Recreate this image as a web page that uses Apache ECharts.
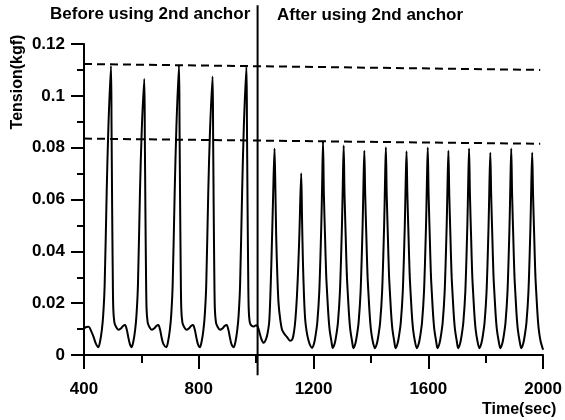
<!DOCTYPE html>
<html>
<head>
<meta charset="utf-8">
<script src="https://cdn.jsdelivr.net/npm/echarts@6/dist/echarts.min.js"></script>
<style>
    html, body { margin: 0; padding: 0; background: #fff; }
    #chart { width: 565px; height: 420px; }
</style>
</head>
<body>
<div id="chart"></div>
<script>
    // tension trace before the 2nd anchor (sec, kgf)
    var beforeTime = [
        400, 408, 416, 425, 433, 441, 450,
        456, 462, 467, 472, 479, 485, 494, 496, 498, 500, 502, 506, 512, 520, 528, 536, 543, 549, 555, 560, 566,
        572, 578, 583, 588, 595, 601, 610, 612, 614, 616, 618, 622, 628, 636, 644, 652, 659, 665, 671, 677, 687,
        693, 699, 704, 709, 716, 722, 731, 733, 735, 737, 739, 743, 749, 757, 765, 773, 780, 786, 792, 797, 804,
        810, 816, 821, 826, 833, 839, 848, 850, 852, 854, 856, 860, 866, 874, 882, 890, 897, 903, 909, 914, 922,
        928, 934, 939, 944, 951, 957, 966, 968, 970, 972, 974, 978, 984, 992, 1000, 1006
    ];
    var beforeTension = [
        0.0103, 0.0108, 0.0109, 0.0092, 0.0071, 0.0045, 0.003,
        0.0052, 0.0095, 0.0155, 0.027, 0.0625, 0.088, 0.1115, 0.088, 0.058, 0.034, 0.018, 0.0125, 0.0108, 0.0097, 0.0102, 0.0112, 0.0116, 0.0098, 0.0065, 0.0042, 0.003,
        0.0052, 0.0095, 0.0155, 0.027, 0.0625, 0.086, 0.1065, 0.084, 0.056, 0.033, 0.018, 0.0125, 0.0108, 0.0097, 0.0102, 0.0112, 0.0116, 0.0098, 0.0065, 0.0042, 0.003,
        0.0052, 0.0095, 0.0155, 0.027, 0.0625, 0.088, 0.1118, 0.088, 0.058, 0.034, 0.018, 0.0125, 0.0108, 0.0097, 0.0102, 0.0112, 0.0116, 0.0098, 0.0065, 0.0042, 0.003,
        0.0052, 0.0095, 0.0155, 0.027, 0.0625, 0.086, 0.1075, 0.085, 0.056, 0.033, 0.018, 0.0125, 0.0108, 0.0097, 0.0102, 0.0112, 0.0116, 0.0098, 0.0065, 0.0042, 0.003,
        0.0052, 0.0095, 0.0155, 0.027, 0.0625, 0.088, 0.1112, 0.088, 0.058, 0.034, 0.018, 0.0125, 0.0113, 0.011, 0.0115, 0.0108
    ];

    // tension trace after the 2nd anchor
    var afterTime = [
        1012, 1018, 1026, 1034, 1040, 1046, 1053, 1059, 1064, 1067, 1070, 1074, 1078, 1083, 1090, 1098, 1107, 1118, 1126,
        1132, 1137, 1142, 1147, 1151, 1157, 1160, 1163, 1167, 1171, 1176, 1182, 1188, 1195,
        1202, 1207, 1213, 1220, 1227, 1230, 1233, 1236, 1240, 1244, 1248, 1252, 1256, 1262, 1267,
        1274, 1279, 1285, 1292, 1299, 1302, 1305, 1308, 1312, 1316, 1320, 1324, 1328, 1334, 1339,
        1346, 1351, 1357, 1364, 1371, 1374, 1377, 1380, 1384, 1388, 1392, 1396, 1400, 1406, 1414,
        1421, 1426, 1432, 1439, 1446, 1449, 1452, 1455, 1459, 1463, 1467, 1471, 1475, 1481, 1486,
        1493, 1498, 1504, 1511, 1518, 1521, 1524, 1527, 1531, 1535, 1539, 1543, 1547, 1553, 1560,
        1567, 1572, 1578, 1585, 1592, 1595, 1598, 1601, 1605, 1609, 1613, 1617, 1621, 1627, 1632,
        1639, 1644, 1650, 1657, 1664, 1667, 1670, 1673, 1677, 1681, 1685, 1689, 1693, 1699, 1704,
        1711, 1716, 1722, 1729, 1736, 1739, 1742, 1745, 1749, 1753, 1757, 1761, 1765, 1771, 1778,
        1785, 1790, 1796, 1803, 1810, 1813, 1816, 1819, 1823, 1827, 1831, 1835, 1839, 1845, 1851,
        1858, 1863, 1869, 1876, 1883, 1886, 1889, 1892, 1896, 1900, 1904, 1908, 1912, 1918, 1924,
        1931, 1936, 1942, 1949, 1956, 1959, 1962, 1965, 1969, 1973, 1977, 1981, 1985, 1991, 2000
    ];
    var afterTension = [
        0.0085, 0.0062, 0.0047, 0.006, 0.0085, 0.0135, 0.0354, 0.061, 0.0797, 0.064, 0.045, 0.03, 0.02, 0.0145, 0.0098, 0.0082, 0.007, 0.0055, 0.006,
        0.009, 0.014, 0.0225, 0.035, 0.048, 0.0701, 0.052, 0.036, 0.022, 0.0135, 0.009, 0.0058, 0.0038, 0.0027,
        0.0045, 0.0075, 0.0125, 0.0245, 0.05, 0.066, 0.0825, 0.062, 0.046, 0.031, 0.0225, 0.015, 0.0098, 0.0055, 0.0027,
        0.0045, 0.0075, 0.0125, 0.0245, 0.05, 0.066, 0.0808, 0.062, 0.046, 0.031, 0.0225, 0.015, 0.0098, 0.0055, 0.0026,
        0.0045, 0.0075, 0.0125, 0.0245, 0.05, 0.066, 0.0788, 0.062, 0.046, 0.031, 0.0225, 0.015, 0.0098, 0.0055, 0.0026,
        0.0045, 0.0075, 0.0125, 0.0245, 0.05, 0.066, 0.0802, 0.062, 0.046, 0.031, 0.0225, 0.015, 0.0098, 0.0055, 0.0026,
        0.0045, 0.0075, 0.0125, 0.0245, 0.05, 0.066, 0.0786, 0.062, 0.046, 0.031, 0.0225, 0.015, 0.0098, 0.0055, 0.0026,
        0.0045, 0.0075, 0.0125, 0.0245, 0.05, 0.066, 0.0801, 0.062, 0.046, 0.031, 0.0225, 0.015, 0.0098, 0.0055, 0.0026,
        0.0045, 0.0075, 0.0125, 0.0245, 0.05, 0.066, 0.0788, 0.062, 0.046, 0.031, 0.0225, 0.015, 0.0098, 0.0055, 0.0026,
        0.0045, 0.0075, 0.0125, 0.0245, 0.05, 0.066, 0.0797, 0.062, 0.046, 0.031, 0.0225, 0.015, 0.0098, 0.0055, 0.0026,
        0.0045, 0.0075, 0.0125, 0.0245, 0.05, 0.066, 0.078, 0.062, 0.046, 0.031, 0.0225, 0.015, 0.0098, 0.0055, 0.0026,
        0.0045, 0.0075, 0.0125, 0.0245, 0.05, 0.066, 0.0797, 0.062, 0.046, 0.031, 0.0225, 0.015, 0.0098, 0.0055, 0.0026,
        0.0045, 0.0075, 0.0125, 0.0245, 0.05, 0.066, 0.078, 0.062, 0.046, 0.031, 0.0225, 0.015, 0.0098, 0.0055, 0.002
    ];

    // dashed reference levels: [start time, end time], [start value, end value]
    var guideTime = [400, 1990];
    var upperGuide = [0.1123, 0.110];
    var lowerGuide = [0.0835, 0.0815];

    // moment the 2nd anchor was added, and how far the marker line runs
    var anchorTime = 1005;
    var anchorSpan = [-0.0078, 0.135];

    var FONT = '"Liberation Sans", Arial, sans-serif';

    var tracePoints = [];
    beforeTime.forEach(function (t, i) { tracePoints.push([t, beforeTension[i]]); });
    afterTime.forEach(function (t, i) { tracePoints.push([t, afterTension[i]]); });

    function pairs(xs, ys) {
        return xs.map(function (x, i) { return [x, ys[i]]; });
    }

    var chart = echarts.init(document.getElementById('chart'), null, { renderer: 'canvas' });

    chart.setOption({
        animation: false,
        backgroundColor: '#fff',
        grid: {
            left: 84,
            right: 20,
            top: 44,
            bottom: 65
        },
        xAxis: {
            type: 'value',
            min: 400,
            max: 2000,
            interval: 400,
            axisLine: { lineStyle: { color: '#000', width: 2 } },
            axisTick: { length: 14, lineStyle: { color: '#000', width: 2 } },
            minorTick: { show: true, splitNumber: 2, length: 8, lineStyle: { color: '#000', width: 2 } },
            axisLabel: {
                color: '#000', fontSize: 17, fontWeight: 'bold', fontFamily: FONT, margin: 26,
                formatter: function (v) { return String(v); }
            },
            splitLine: { show: false }
        },
        yAxis: {
            type: 'value',
            min: 0,
            max: 0.12,
            interval: 0.02,
            axisLine: { lineStyle: { color: '#000', width: 2 } },
            axisTick: { length: 13, lineStyle: { color: '#000', width: 2 } },
            minorTick: { show: true, splitNumber: 2, length: 7, lineStyle: { color: '#000', width: 2 } },
            axisLabel: { color: '#000', fontSize: 17, fontWeight: 'bold', fontFamily: FONT, margin: 19 },
            splitLine: { show: false }
        },
        graphic: [
            {
                type: 'text', left: 50, top: 6,
                style: { text: 'Before using 2nd anchor', font: 'bold 17px ' + FONT, fill: '#000' }
            },
            {
                type: 'text', left: 277, top: 7,
                style: { text: 'After using 2nd anchor', font: 'bold 17px ' + FONT, fill: '#000' }
            },
            {
                type: 'text', left: 482, top: 402,
                style: { text: 'Time(sec)', font: 'bold 16px ' + FONT, fill: '#000' }
            },
            {
                type: 'text', x: 18, y: 82, rotation: Math.PI / 2,
                style: { text: 'Tension(kgf)', font: 'bold 16px ' + FONT, fill: '#000', align: 'center', verticalAlign: 'middle' }
            }
        ],
        series: [
            {
                name: 'tension',
                type: 'line',
                data: tracePoints,
                showSymbol: false,
                smooth: 0.3,
                lineStyle: { color: '#000', width: 2 }
            },
            {
                name: 'upper level',
                type: 'line',
                data: pairs(guideTime, upperGuide),
                showSymbol: false,
                lineStyle: { color: '#000', width: 2, type: [8, 5] }
            },
            {
                name: 'lower level',
                type: 'line',
                data: pairs(guideTime, lowerGuide),
                showSymbol: false,
                lineStyle: { color: '#000', width: 2, type: [8, 5] }
            },
            {
                name: 'anchor',
                type: 'line',
                clip: false,
                data: [[anchorTime, anchorSpan[0]], [anchorTime, anchorSpan[1]]],
                showSymbol: false,
                lineStyle: { color: '#000', width: 2 }
            }
        ]
    });
</script>
</body>
</html>
